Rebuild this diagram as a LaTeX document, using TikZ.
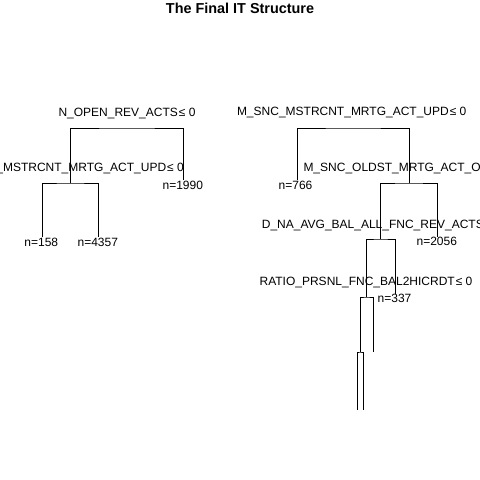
\documentclass[tikz,border=0pt]{standalone}
\usepackage{fontspec}
\setmainfont{Liberation Sans}
\usepackage{tikz}
\usetikzlibrary{calc}

\begin{document}
\begin{tikzpicture}[x=1pt,y=-1pt,
	branch/.style={line width=1pt},
	splitlab/.style={anchor=base,inner sep=0pt,font=\fontsize{12}{14}\selectfont},
	leaflab/.style={anchor=base,inner sep=0pt,font=\fontsize{12}{14}\selectfont}]
	\useasboundingbox (0,0) rectangle (480,480);
	\clip (0,0) rectangle (480,480);
	
	%title
	\node[anchor=base,inner sep=0pt,font=\bfseries\fontsize{14.4}{17}\selectfont] (title) at (240,13) {The Final IT Structure};
	
	%left tree points
	\coordinate (root1) at (127,128);
	\coordinate (s1) at (70.5,183);
	\coordinate (leaf1990) at (183.5,180);
	\coordinate (leaf158) at (42,237);
	\coordinate (leaf4357) at (98.5,237);
	
	%right tree points
	\coordinate (root2) at (353,128);
	\coordinate (leaf766) at (297,180);
	\coordinate (s2) at (409,183);
	\coordinate (s3) at (380.5,239);
	\coordinate (leaf2056) at (437,237);
	\coordinate (s4) at (366.5,297);
	\coordinate (leaf337) at (395,294);
	\coordinate (leafa) at (373,352);
	\coordinate (s5) at (360,352);
	\coordinate (leafb) at (357,410);
	\coordinate (leafc) at (363,410);
	
	%branches
	\draw[branch] (s1) |- (root1) -| (leaf1990);
	\draw[branch] (leaf158) |- (s1) -| (leaf4357);
	%
	\draw[branch] (leaf766) |- (root2) -| (s2);
	\draw[branch] (s3) |- (s2) -| (leaf2056);
	\draw[branch] (s4) |- (s3) -| (leaf337);
	\draw[branch] (s5) |- (s4) -| (leafa);
	\draw[branch] (leafb) |- (s5) -| (leafc);
	
	%split labels
	\node[splitlab] (root1lab) at (127,116) {N\_OPEN\_REV\_ACTS\kern1pt≤ 0};
	\node[splitlab,anchor=base east] (s1lab) at (184,171) {M\_SNC\_MSTRCNT\_MRTG\_ACT\_UPD\kern1pt≤ 0};
	\node[splitlab] (root2lab) at (351.7,115.5) {M\_SNC\_MSTRCNT\_MRTG\_ACT\_UPD\kern1pt≤ 0};
	\node[splitlab,anchor=base west] (s2lab) at (303.3,171) {M\_SNC\_OLDST\_MRTG\_ACT\_OPN\kern1pt≤ 0};
	\node[splitlab,anchor=base west] (s3lab) at (261.7,228.5) {D\_NA\_AVG\_BAL\_ALL\_FNC\_REV\_ACTS\kern1pt≤ 0};
	\node[splitlab] (s4lab) at (366,285) {RATIO\_PRSNL\_FNC\_BAL2HICRDT\kern1pt≤ 0};
	
	%leaf labels
	\node[leaflab] (n1990) at (182.8,189) {n=1990};
	\node[leaflab] (n158) at (41.3,246) {n=158};
	\node[leaflab] (n4357) at (97.8,246) {n=4357};
	\node[leaflab] (n766) at (295.5,189) {n=766};
	\node[leaflab] (n2056) at (436.8,245.5) {n=2056};
	\node[leaflab] (n337) at (394.5,302) {n=337};
	
	%\draw[help lines,step=20] (0,0) grid (480,480);
\end{tikzpicture}
\end{document}
